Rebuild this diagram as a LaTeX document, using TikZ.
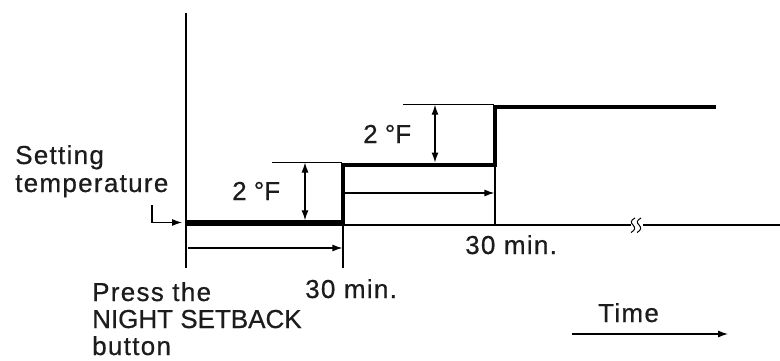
\documentclass[tikz,border=0pt]{standalone}
\usepackage{fontspec}
\setmainfont[FakeBold=0.6]{Liberation Sans}
\newfontfamily\trk[LetterSpace=5,FakeBold=0.6]{Liberation Sans}
\usetikzlibrary{arrows.meta}
\definecolor{txt}{HTML}{1C1C1C}
\tikzset{
  lbl/.style={anchor=base west, inner sep=0pt, text=txt, font=\fontsize{26}{28}\selectfont},
  lblw/.style={lbl, font=\fontsize{26}{28}\trk},
  thin/.style={line width=1.2pt, black},
  thick/.style={line width=4.5pt, black, line join=miter, line cap=butt},
  arr/.style={thin, -{Latex[length=10pt,width=7pt]}},
  darr/.style={thin, {Latex[length=10pt,width=7pt]}-{Latex[length=10pt,width=7pt]}},
}
\begin{document}
\begin{tikzpicture}[x=1pt,y=-1pt]
\useasboundingbox[fill=white] (0,0) rectangle (780,361);

% coordinates
\coordinate (ytop) at (186,13);
\coordinate (ybot) at (186,268);
\coordinate (ax0) at (186,225);
\coordinate (axbrkL) at (631,225);
\coordinate (axbrkR) at (643,225);
\coordinate (ax1) at (780,225);
\coordinate (s0) at (186,222.5);
\coordinate (s1) at (343,222.5);
\coordinate (s2) at (343,164.75);
\coordinate (s3) at (495,164.75);
\coordinate (s4) at (495,107);
\coordinate (s5) at (716,107);

% axes
\draw[thin] (ytop) -- (ybot);
\draw[thin] (ax0) -- (axbrkL);
\draw[thin] (axbrkR) -- (ax1);
% break mark
\draw[line width=1pt] (635,218) .. controls (630.5,220.5) and (630.5,222.5) .. (633,225) .. controls (635.5,227.5) and (635.5,230) .. (631,232.5);
\draw[line width=1pt] (641,218) .. controls (636.5,220.5) and (636.5,222.5) .. (639,225) .. controls (641.5,227.5) and (641.5,230) .. (637,232.5);

% drop lines
\coordinate (v1a) at (343,222);
\coordinate (v1b) at (343,268);
\coordinate (v2a) at (495,165);
\coordinate (v2b) at (495,225);
\draw[thin] (v1a) -- (v1b);
\draw[thin] (v2a) -- (v2b);

% reference lines
\coordinate (r1a) at (272,162.5);
\coordinate (r1b) at (342,162.5);
\coordinate (r2a) at (403,104.75);
\coordinate (r2b) at (494,104.75);
\draw[thin] (r1a) -- (r1b);
\draw[thin] (r2a) -- (r2b);

% step line
\draw[thick] (s0) -- (s1) -- (s2) -- (s3) -- (s4) -- (s5);

% height arrows
\coordinate (h1a) at (305,162.5);
\coordinate (h1b) at (305,220.25);
\coordinate (h2a) at (435,104.75);
\coordinate (h2b) at (435,162.5);
\draw[darr] (h1a) -- (h1b);
\draw[darr] (h2a) -- (h2b);

% time arrows
\coordinate (t1a) at (188,248);
\coordinate (t1b) at (342.4,248);
\coordinate (t2a) at (344,193);
\coordinate (t2b) at (494.4,193);
\draw[arr] (t1a) -- (t1b);
\draw[arr] (t2a) -- (t2b);

% setting arrow
\coordinate (sa0) at (152,205);
\coordinate (sa1) at (182,222.5);
\draw[arr] (sa0) |- (sa1);

% time axis arrow
\coordinate (ta0) at (572,334);
\coordinate (ta1) at (728,334);
\draw[arr] (ta0) -- (ta1);

% labels
\node[lblw] (set1) at (15,164) {Setting};
\node[lblw] (set2) at (15,192) {temperature};
\node[lbl] (df1) at (232,200) {2 °F};
\node[lbl] (df2) at (363,143) {2 °F};
\node[lblw] (m1) at (305,298) {30 min.};
\node[lblw] (m2) at (465,254) {30 min.};
\node[lblw] (p1) at (92,301) {Press the};
\node[lbl] (p2) at (92,328) {NIGHT SETBACK};
\node[lblw] (p3) at (92,355) {button};
\node[lblw] (tm) at (598,322) {Time};
\end{tikzpicture}
\end{document}
